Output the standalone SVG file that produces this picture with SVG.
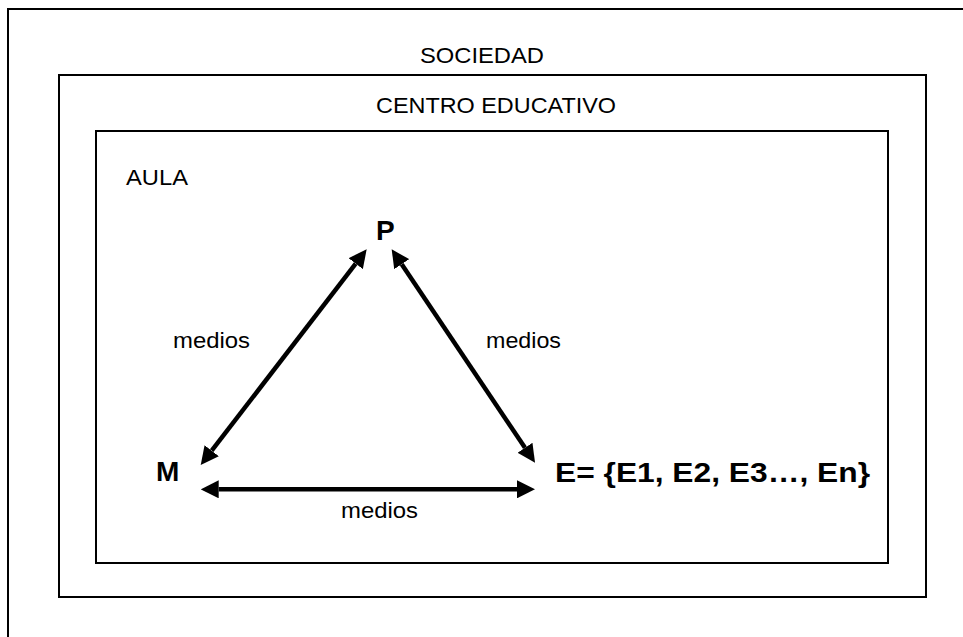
<svg xmlns="http://www.w3.org/2000/svg" width="963" height="637" viewBox="0 0 963 637">
<style>
.box{fill:none;stroke:#000;stroke-width:2}
.t{font-family:"Liberation Sans",Arial,sans-serif;font-size:22px;fill:#000}
.b{font-family:"Liberation Sans",Arial,sans-serif;font-size:28px;font-weight:bold;fill:#000}
.arr{stroke:#000;stroke-width:4.5;fill:none;marker-start:url(#ah);marker-end:url(#ah)}
</style>
<defs>
<marker id="ah" viewBox="0 0 18 18" refX="0" refY="9" markerWidth="18" markerHeight="18" markerUnits="userSpaceOnUse" orient="auto-start-reverse">
<path d="M0,0 L18,9 L0,18 z" fill="#000"/>
</marker>
</defs>
<rect width="963" height="637" fill="#fff"/>
<g id="sociedad">
<rect class="box" x="8" y="9" width="1000" height="700"/>
<text class="t" x="420" y="63" textLength="124" lengthAdjust="spacingAndGlyphs">SOCIEDAD</text>
</g>
<g id="centro">
<rect class="box" x="59" y="75" width="867" height="522"/>
<text class="t" x="376" y="113" textLength="240" lengthAdjust="spacingAndGlyphs">CENTRO EDUCATIVO</text>
</g>
<g id="aula">
<rect class="box" x="96" y="131" width="792" height="432"/>
<text class="t" x="126" y="185" textLength="62" lengthAdjust="spacingAndGlyphs">AULA</text>
</g>
<g id="P"><text class="b" x="376" y="240">P</text></g>
<g id="M"><text class="b" x="156" y="481">M</text></g>
<g id="E"><text class="b" x="555" y="482" textLength="315" lengthAdjust="spacingAndGlyphs">E= {E1, E2, E3…, En}</text></g>
<g id="connectors">
<line class="arr" x1="211.7" y1="450.7" x2="355.7" y2="263.6"/>
<line class="arr" x1="401.7" y1="264.2" x2="525" y2="447.8"/>
<line class="arr" x1="218.7" y1="489.3" x2="517" y2="489.3"/>
<text class="t" x="173" y="348" textLength="77" lengthAdjust="spacingAndGlyphs">medios</text>
<text class="t" x="486" y="348" textLength="75" lengthAdjust="spacingAndGlyphs">medios</text>
<text class="t" x="341" y="518" textLength="77" lengthAdjust="spacingAndGlyphs">medios</text>
</g>
</svg>
